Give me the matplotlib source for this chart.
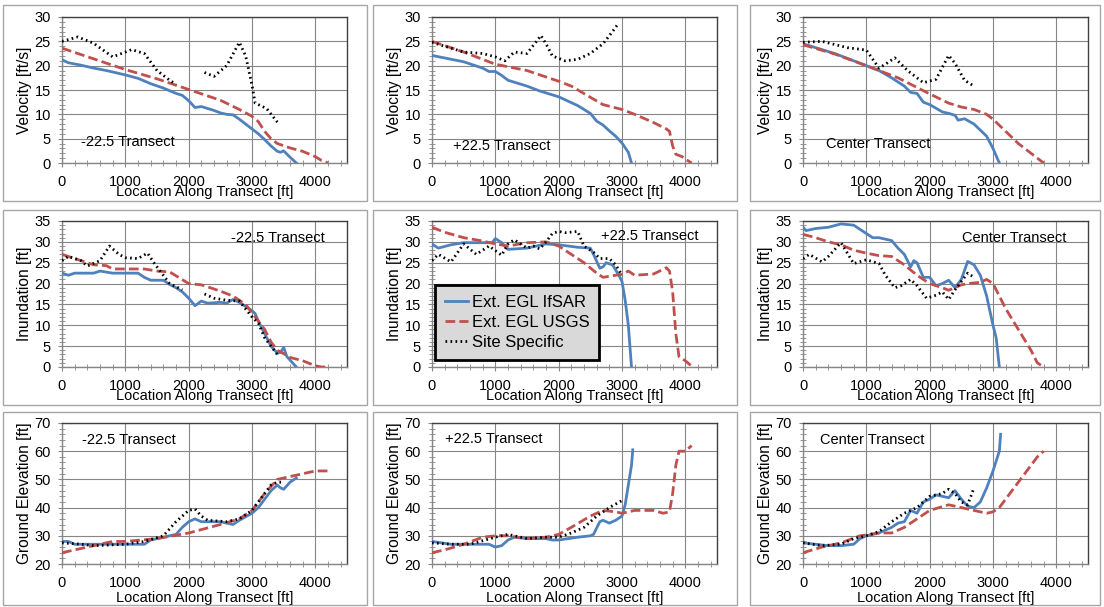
import numpy as np
import matplotlib
matplotlib.use("Agg")
import matplotlib.pyplot as plt
from matplotlib.patches import Rectangle
from matplotlib.ticker import MultipleLocator

plt.rcParams['font.family'] = ['Liberation Sans', 'DejaVu Sans']
nan = np.nan

BLUE = '#4F81BD'
RED = '#C0504D'

# ---------------- Velocity ----------------
vm_if_x = [0,100,300,500,700,1000,1200,1400,1600,1800,1900,2000,2100,2200,2400,2500,2600,2700,2800,2900,3000,3100,3200,3300,3400,3450,3500,3600,3700]
vm_if_y = [21.2,20.6,20.1,19.5,19.0,18.1,17.4,16.3,15.4,14.3,13.9,12.8,11.4,11.6,10.8,10.3,10.0,9.9,9.0,8.0,7.0,6.0,4.8,3.5,2.4,2.2,2.5,1.2,0]
vm_us_x = [0,500,1000,1500,2000,2500,2800,3000,3100,3200,3300,3400,3600,3800,4000,4100,4200]
vm_us_y = [23.6,21.4,19.2,17.3,15.1,12.9,11.0,9.6,8.5,6.5,5.0,4.0,3.1,2.4,1.3,0.5,0]
vm_ss_x = [0,250,500,800,1100,1300,1500,1700,1800,2000,2250,2400,2600,2800,2900,3000,3050,3230,3400]
vm_ss_y = [25,25.9,24.6,21.8,23.3,22.5,19,17,16.2,nan,18.6,17.8,20,24.8,22,16,12.3,11.2,8.4]

vp_if_x = [0,500,800,900,1000,1100,1200,1500,1700,2000,2300,2500,2600,2700,2800,2900,3000,3100,3150]
vp_if_y = [22.1,20.8,19.5,18.8,18.8,18,17,15.8,14.8,13.6,11.8,10.2,8.6,7.8,6.6,5.5,4.1,2.2,0]
vp_us_x = [0,500,1000,1500,2000,2200,2500,2700,3000,3200,3500,3700,3750,3800,3850,3950,4000,4100]
vp_us_y = [25,22.8,20.3,19.0,16.8,15.8,13.5,12,11,10,8.3,7,6.5,3.5,1.8,1.3,0.8,0]
vp_ss_x = [0,200,500,800,1000,1150,1300,1500,1650,1720,1800,1900,2100,2300,2500,2700,2850,2950]
vp_ss_y = [24.8,24,22.8,22.5,21.8,21,22.8,22.5,25,26.2,24.5,22,21,21.3,22.5,24.5,27,28.8]

vc_if_x = [0,500,1000,1200,1400,1600,1700,1800,1900,2000,2200,2300,2400,2450,2550,2700,2900,3000,3100]
vc_if_y = [24.5,22.5,20,19,17.5,15.8,14.5,14.3,12.5,12,10.5,10.2,9.8,8.8,9.1,8,5.5,3,0]
vc_us_x = [0,500,1000,1500,2000,2300,2500,2700,2900,3000,3200,3400,3600,3800]
vc_us_y = [24.3,22.4,20,17.5,14.2,12.3,11.5,11,10,9,6.5,4,2,0]
vc_ss_x = [0,300,700,1000,1200,1300,1450,1650,1900,2100,2300,2400,2550,2700]
vc_ss_y = [24.8,25,23.7,23.2,19.5,20.3,21.6,19,16.5,17.2,22.1,20.5,17,15.8]

# ---------------- Inundation ----------------
im_if_x = [0,100,200,500,600,800,1000,1200,1300,1400,1600,1700,1800,1900,2000,2100,2200,2300,2500,2600,2700,2800,2900,3000,3050,3100,3200,3300,3400,3450,3500,3550,3700]
im_if_y = [22.5,22,22.5,22.5,23,22.5,22.5,22.5,21.5,20.8,20.8,19.8,19,18,16.5,14.7,15.8,15.3,15.5,15.3,16.2,15.5,14.5,13.5,12.8,11,8,5,3.3,3.5,4.7,2.5,0]
im_us_x = [0,200,500,700,800,1000,1300,1500,1700,2000,2200,2500,2700,2900,3000,3200,3300,3400,3500,3600,3800,4000,4100,4200]
im_us_y = [27,26,24.5,24.3,23.5,23.5,23.5,23,22.8,20,19.7,18.2,17,15,13,9,6,4,3.2,2.3,1.5,0.3,0,0]
im_ss_x = [0,100,300,400,600,750,900,1000,1200,1350,1450,1600,1700,1900,2100,2250,2400,2600,2800,3000,3100,3200,3300,3400]
im_ss_y = [25.5,26.5,25.5,24.2,25.5,29,27,26.2,26,27.3,25,22,20,18.5,nan,17.5,16.5,16,15.8,12,10.5,7,5,3]

ip_if_x = [0,100,300,500,800,950,1000,1100,1200,1500,1800,2000,2300,2500,2550,2650,2700,2750,2850,2950,3000,3050,3100,3150]
ip_if_y = [29.5,28.5,29.3,29.8,29.8,29.8,30.8,29.8,28.2,28.5,29.5,29.3,28.7,28.5,27,23.7,24,25,24.5,22,20.5,16,10,0]
ip_us_x = [0,200,500,800,1000,1200,1500,1800,2000,2200,2400,2600,2700,2900,3000,3100,3200,3500,3700,3750,3800,3850,3900,4000,4100]
ip_us_y = [33.5,32.3,31,30.2,29.5,29,29.8,30,29,27,25,22.5,21.5,22,22.2,23,22,22.3,23.8,23,18,8,2.5,1.5,0.2]
ip_ss_x = [0,100,300,500,700,900,1100,1200,1300,1500,1600,1700,1800,1900,2000,2100,2300,2400,2550,2650,2800,2900,3000]
ip_ss_y = [25.5,27,25.2,29.5,27,29,26.8,29.5,30.5,28.5,29,28.3,30,32,32.5,32.2,32.5,29,27.5,26,26,24.5,22]

ic_if_x = [0,50,200,400,600,800,900,1100,1200,1400,1500,1600,1700,1750,1800,1900,2000,2100,2200,2300,2400,2500,2600,2700,2800,2900,3000,3050,3100]
ic_if_y = [33.5,32.7,33.2,33.5,34.3,34,33,31,31,30.3,28.5,27,24,25.5,25,21.5,21.5,19.5,20,20.8,19,21,25.3,24.5,22,17,10,7,0]
ic_us_x = [0,200,400,600,800,1000,1200,1400,1600,1800,2000,2200,2300,2400,2500,2600,2800,2900,3000,3200,3400,3600,3700,3800]
ic_us_y = [31.8,31,30,29.3,28,27.3,26.7,26.5,24.5,22,20,19,18.4,19,19.7,20,20.3,21,20,14,9,4,1,0]
ic_ss_x = [0,100,300,400,600,800,1000,1200,1300,1450,1550,1700,1800,1950,2100,2200,2300,2400,2500,2600,2700]
ic_ss_y = [26,27,25.2,26.5,29.8,24.8,25.7,24.8,22,19,19.5,21,19.5,16.5,17.2,18,16.2,18.5,20.5,22.5,21.5]

# ---------------- Ground elevation ----------------
gm_if_x = [0,100,200,500,800,1000,1300,1400,1600,1800,1900,2000,2100,2200,2500,2600,2700,2800,3000,3100,3200,3300,3400,3450,3500,3600,3700]
gm_if_y = [28,28,27,27,27,27,27,28.5,29.5,30.5,33,35,36,35,35,34.5,34,35.5,38,40,43,46,48,47,46.5,49,50.5]
gm_us_x = [0,200,500,800,1000,1500,2000,2500,2800,3000,3200,3400,3600,3800,4000,4200]
gm_us_y = [24,25,26.5,28,28,29,31,34,36,39,45,50,51,52,53,53]
gm_ss_x = [0,300,500,1000,1300,1600,1800,2000,2100,2200,2300,2600,2800,3000,3200,3300,3400,3500]
gm_ss_y = [27.5,27,26.5,27,28,30,35,39,39.5,37,35.5,35,36,39,45,48,49,49]

gp_if_x = [0,300,600,900,1000,1100,1200,1300,1500,1800,1900,2000,2300,2500,2550,2650,2700,2800,2900,3000,3050,3100,3150,3170]
gp_if_y = [28,27,27,27,26,26.5,28.5,29.5,29,29,28.5,28.5,29.5,30,30.5,35,35.5,34.5,35.5,37,41,48,55,60.5]
gp_us_x = [0,200,500,800,1000,1200,1500,1800,2000,2200,2500,2700,2900,3000,3200,3500,3650,3750,3800,3850,3900,4000,4100]
gp_us_y = [24,25,27,29.5,30,30,29,29.5,30.5,33,37,39,38.5,38,39,39,38,38.5,45,55,60,60,62]
gp_ss_x = [0,300,600,1000,1200,1500,1800,2000,2200,2400,2600,2800,3000]
gp_ss_y = [27.5,27,27,29.5,30.5,29,29.5,29.5,31,33,37,40,42.5]

gc_if_x = [0,200,400,600,800,900,1000,1200,1400,1500,1600,1700,1800,1900,2000,2100,2200,2300,2400,2500,2600,2700,2800,2900,3000,3100,3120]
gc_if_y = [27.5,27,26.5,26.5,27,29,30,31,33,34.5,35,39,38,42,43,44.5,44,43.5,46,43,40.5,40,42,47,53,60,66]
gc_us_x = [0,300,600,900,1200,1400,1600,1800,2000,2300,2500,2700,2900,3000,3100,3300,3500,3700,3800]
gc_us_y = [24,26,27.5,30,31,31,33,36,39,41,40,39,38,38.5,40,46,52,58,60]
gc_ss_x = [0,300,600,800,1000,1200,1400,1600,1800,2000,2200,2300,2400,2500,2600,2700]
gc_ss_y = [27.5,26.5,27,29,30,31.5,35,38,40,44,45,46.5,45,42,41,47]

row_ylabels = ['Velocity [ft/s]', 'Inundation [ft]', 'Ground Elevation [ft]']
row_ylims = [(0, 30), (0, 35), (20, 70)]
row_ymajor = [5, 5, 10]
row_yminor = [1, 1, 2]
col_titles = ['-22.5 Transect', '+22.5 Transect', 'Center Transect']
series_names = ['Ext. EGL IfSAR', 'Ext. EGL USGS', 'Site Specific']

data = [
    [(vm_if_x, vm_if_y, vm_us_x, vm_us_y, vm_ss_x, vm_ss_y),
     (vp_if_x, vp_if_y, vp_us_x, vp_us_y, vp_ss_x, vp_ss_y),
     (vc_if_x, vc_if_y, vc_us_x, vc_us_y, vc_ss_x, vc_ss_y)],
    [(im_if_x, im_if_y, im_us_x, im_us_y, im_ss_x, im_ss_y),
     (ip_if_x, ip_if_y, ip_us_x, ip_us_y, ip_ss_x, ip_ss_y),
     (ic_if_x, ic_if_y, ic_us_x, ic_us_y, ic_ss_x, ic_ss_y)],
    [(gm_if_x, gm_if_y, gm_us_x, gm_us_y, gm_ss_x, gm_ss_y),
     (gp_if_x, gp_if_y, gp_us_x, gp_us_y, gp_ss_x, gp_ss_y),
     (gc_if_x, gc_if_y, gc_us_x, gc_us_y, gc_ss_x, gc_ss_y)],
]

label_pos = [
    [(300, 4.4), (330, 3.4), (370, 3.9)],
    [(2670, 30.9), (2670, 31.3), (2515, 31.0)],
    [(316, 63.8), (205, 64.3), (263, 64.0)],
]

W, H = 1104, 607
fig = plt.figure(figsize=(W / 100, H / 100), dpi=100)

col_box = [(3, 367), (373, 737), (750, 1100)]
row_box = [(5, 201), (210, 405), (412, 605)]
for (x0, x1) in col_box:
    for (y0, y1) in row_box:
        fig.patches.append(Rectangle((x0 / W, 1 - y1 / H), (x1 - x0) / W, (y1 - y0) / H,
                                     transform=fig.transFigure, fill=False,
                                     edgecolor='#a6a6a6', linewidth=1.0))

col_ax = [(62, 347), (432, 717), (803, 1088)]
row_ax = [(17, 163), (221, 367), (423, 564)]

for r in range(3):
    for c in range(3):
        x0, x1 = col_ax[c]
        y0, y1 = row_ax[r]
        ax = fig.add_axes([x0 / W, 1 - y1 / H, (x1 - x0) / W, (y1 - y0) / H])
        ifx, ify, usx, usy, ssx, ssy = data[r][c]
        ax.plot(ifx, ify, color=BLUE, lw=2.0, label=series_names[0], zorder=3)
        ax.plot(usx, usy, color=RED, lw=2.0, ls=(0, (3.5, 1.5)), label=series_names[1], zorder=4)
        ax.plot(ssx, ssy, color='black', lw=2.0, ls=(0, (0.6, 1.2)), label=series_names[2], zorder=5)
        ax.set_xlim(0, 4500)
        ax.set_ylim(*row_ylims[r])
        ax.xaxis.set_major_locator(MultipleLocator(1000))
        ax.xaxis.set_minor_locator(MultipleLocator(200))
        ax.yaxis.set_major_locator(MultipleLocator(row_ymajor[r]))
        ax.yaxis.set_minor_locator(MultipleLocator(row_yminor[r]))
        ax.set_xticks([0, 1000, 2000, 3000, 4000])
        ax.grid(True, which='major', color='#868686', lw=0.8)
        ax.set_axisbelow(True)
        ax.tick_params(which='major', direction='out', length=3, labelsize=10.5,
                       color='#868686', labelcolor='black')
        ax.tick_params(axis='x', which='major', pad=5.5)
        ax.tick_params(axis='y', which='major', pad=5)
        ax.tick_params(which='minor', direction='inout', length=4, color='#868686')
        for s in ['top', 'right']:
            ax.spines[s].set_color('#404040')
            ax.spines[s].set_linewidth(1.0)
        for s in ['left', 'bottom']:
            ax.spines[s].set_color('#868686')
            ax.spines[s].set_linewidth(1.0)
        ax.set_ylabel(row_ylabels[r], fontsize=11.2, labelpad=1.5)
        ax.set_xlabel('Location Along Transect [ft]', fontsize=10.5,
                      labelpad=(-2.8 if r < 2 else 1.2))
        lx, ly = label_pos[r][c]
        ax.text(lx, ly, col_titles[c], fontsize=10.5, ha='left', va='center', zorder=6)
        if r == 1 and c == 1:
            leg = ax.legend(loc='upper left', bbox_to_anchor=(0.01, 0.562), borderaxespad=0,
                            fontsize=12, frameon=True, fancybox=False, shadow=False,
                            handlelength=1.4, borderpad=0.6, labelspacing=0.3,
                            handletextpad=0.2)
            fr = leg.get_frame()
            fr.set_facecolor('#d9d9d9')
            fr.set_edgecolor('black')
            fr.set_linewidth(2.0)
            fr.set_alpha(1.0)
            leg.set_zorder(10)

fig.savefig('out.png', dpi=100)
